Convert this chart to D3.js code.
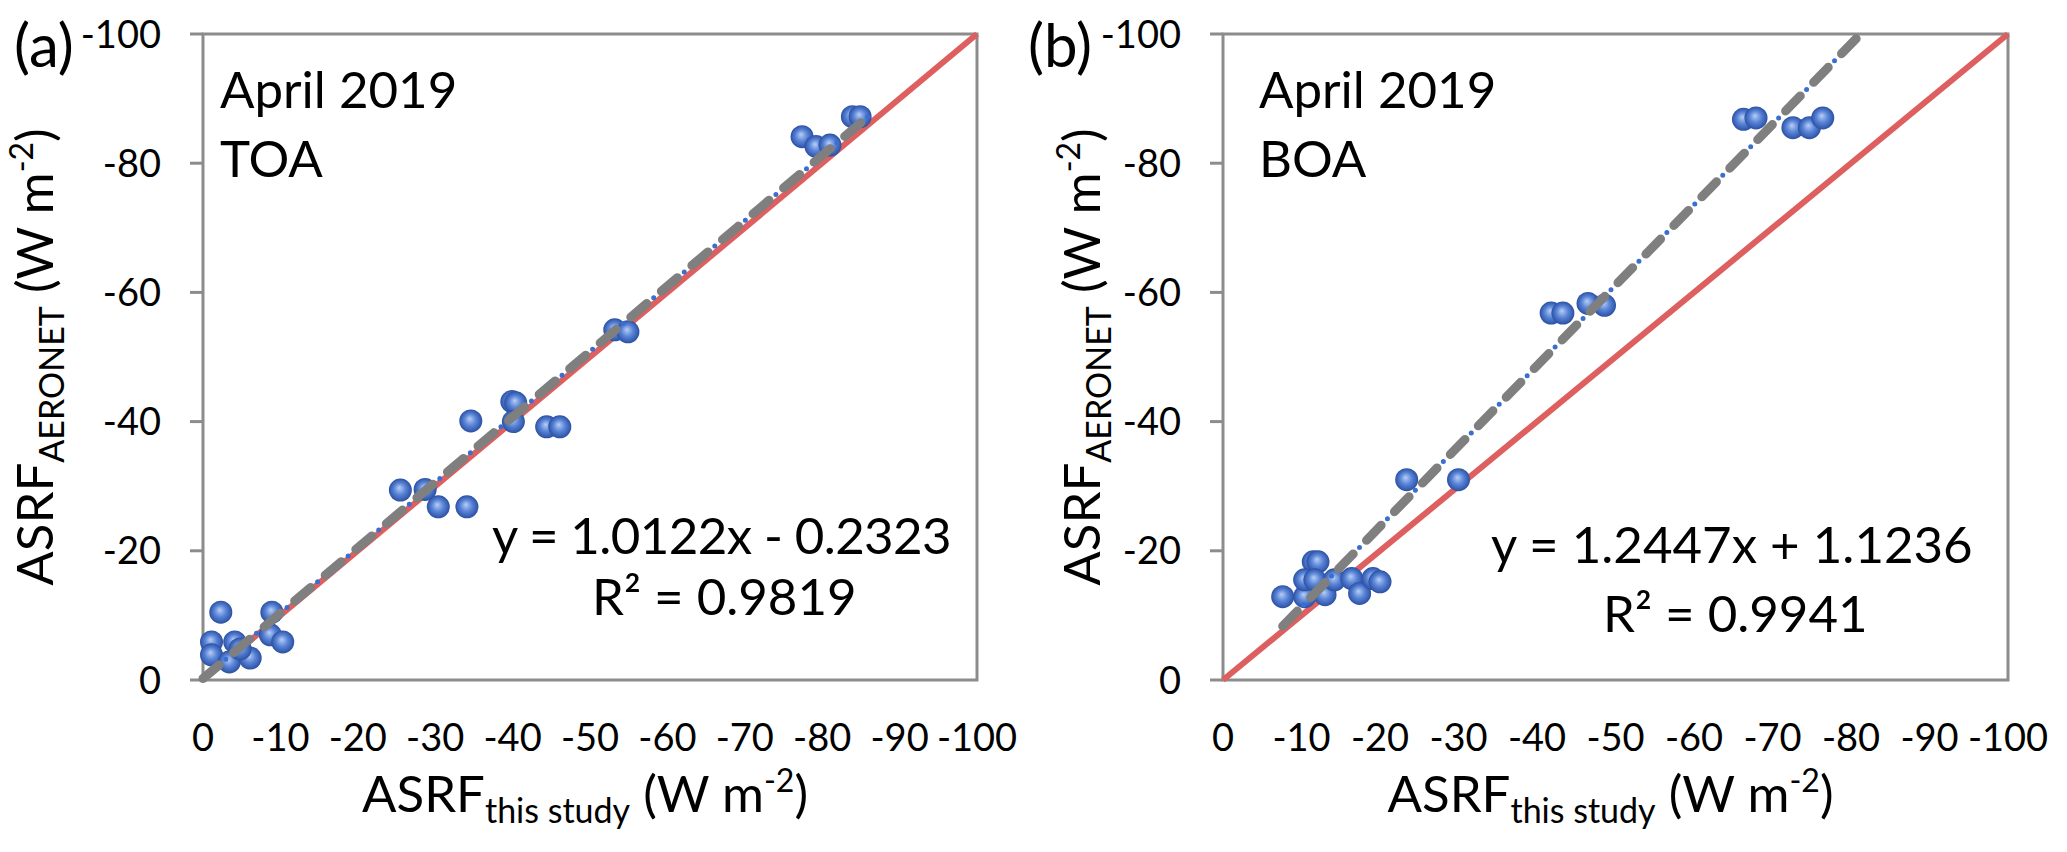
<!DOCTYPE html>
<html>
<head>
<meta charset="utf-8">
<script src="https://cdn.jsdelivr.net/npm/d3@7"></script>
<style>
  html, body { margin: 0; padding: 0; background: #fff; }
  svg text { font-family: Lato, "Open Sans", sans-serif; fill: #000; }
</style>
</head>
<body>
<svg id="chart" width="2067" height="852"></svg>
<script>
// Data (W m-2)
const toaThisStudy = [-2.3, -8.9, -1.1, -4.1, -1.1, -3.4, -6.1, -8.7, -10.3, -4.8,
  -25.5, -28.7, -30.4, -34.1, -34.6, -39.9, -40.4, -40.1, -44.4, -46.1,
  -53.2, -54.9, -77.4, -79.2, -81.0, -83.9, -84.9];
const toaAeronet = [-10.5, -10.5, -5.9, -5.9, -3.9, -2.8, -3.4, -7.0, -5.9, -4.8,
  -29.4, -29.5, -26.8, -26.8, -40.1, -43.1, -42.9, -40.0, -39.2, -39.2,
  -54.2, -53.9, -84.1, -82.6, -82.8, -87.2, -87.2];

const boaThisStudy = [-7.6, -10.4, -11.5, -12.1, -10.4, -11.7, -13.0, -14.2, -16.4, -17.4, -19.1, -20.0,
  -23.4, -30.0, -41.8, -43.3, -46.5, -48.6, -66.3, -67.9, -72.6, -74.7, -76.4];
const boaAeronet = [-12.9, -12.9, -18.3, -18.3, -15.5, -15.5, -13.2, -15.5, -15.7, -13.4, -15.7, -15.2,
  -31.0, -31.0, -56.8, -56.8, -58.3, -58.0, -86.8, -87.0, -85.5, -85.5, -87.0];

// linear fits as printed on the chart
const toaFit = { slope: 1.0122, intercept: -0.2323, r2: '0.9819', from: 0, to: -86 };
const boaFit = { slope: 1.2447, intercept: 1.1236, r2: '0.9941', from: -7.6, to: -80.8 };

const axisTicksY = [0, -20, -40, -60, -80, -100];
const axisTicksX = [0, -10, -20, -30, -40, -50, -60, -70, -80, -90, -100];

const svg = d3.select('#chart');

// sphere look for the markers
const grad = svg.append('defs').append('radialGradient')
  .attr('id', 'ball').attr('cx', '50%').attr('cy', '50%').attr('r', '50%')
  .attr('fx', '45%').attr('fy', '40%');
grad.append('stop').attr('offset', '0%').attr('stop-color', '#b8cef4');
grad.append('stop').attr('offset', '50%').attr('stop-color', '#5a85d8');
grad.append('stop').attr('offset', '100%').attr('stop-color', '#2b50a3');

const panels = [
  { tag: '(a)', tagX: 14, label: 'TOA', xs: toaThisStudy, ys: toaAeronet, fit: toaFit,
    left: 203, right: 977, yTitleX: 53, textX: 220,
    eqX: 492, eqY: 554, r2X: 592, r2Y: 615, sign: '-' },
  { tag: '(b)', tagX: 1028, label: 'BOA', xs: boaThisStudy, ys: boaAeronet, fit: boaFit,
    left: 1223, right: 2008, yTitleX: 1100, textX: 1259,
    eqX: 1491, eqY: 563, r2X: 1603, r2Y: 632, sign: '+' }
];

const plotTop = 34, plotBottom = 680;

panels.forEach(function(p) {
  const x = d3.scaleLinear().domain([0, -100]).range([p.left, p.right]);
  const y = d3.scaleLinear().domain([0, -100]).range([plotBottom, plotTop]);
  const g = svg.append('g');

  // plot frame + y ticks
  g.append('rect')
    .attr('x', x(0)).attr('y', y(-100))
    .attr('width', x(-100) - x(0)).attr('height', y(0) - y(-100))
    .attr('fill', 'none').attr('stroke', '#8c8c8c').attr('stroke-width', 3);

  g.selectAll('.ytick').data(axisTicksY).join('line')
    .attr('x1', x(0) - 13).attr('x2', x(0))
    .attr('y1', d => y(d)).attr('y2', d => y(d))
    .attr('stroke', '#8c8c8c').attr('stroke-width', 3);

  g.selectAll('.ylab').data(axisTicksY).join('text')
    .attr('x', x(0) - 42).attr('y', d => y(d)).attr('dy', '0.36em')
    .attr('text-anchor', 'end').style('font-size', '38px')
    .text(d => d);

  g.selectAll('.xlab').data(axisTicksX).join('text')
    .attr('x', d => x(d)).attr('y', 751)
    .attr('text-anchor', 'middle').style('font-size', '38px')
    .text(d => d);

  // 1:1 line
  g.append('line')
    .attr('x1', x(0)).attr('y1', y(0)).attr('x2', x(-100)).attr('y2', y(-100))
    .attr('stroke', '#dd5f5f').attr('stroke-width', 6);

  // points
  g.selectAll('circle').data(p.xs).join('circle')
    .attr('cx', d => x(d))
    .attr('cy', (d, i) => y(p.ys[i]))
    .attr('r', 11.5)
    .attr('fill', 'url(#ball)');

  // trend line: blue dots under grey dashes
  const f = p.fit;
  const tx1 = x(f.from), ty1 = y(f.slope * f.from + f.intercept);
  const tx2 = x(f.to), ty2 = y(f.slope * f.to + f.intercept);
  g.append('line')
    .attr('x1', tx1).attr('y1', ty1).attr('x2', tx2).attr('y2', ty2)
    .attr('stroke', '#3a6fd0').attr('stroke-width', 5)
    .attr('stroke-linecap', 'round')
    .attr('stroke-dasharray', '0 40').attr('stroke-dashoffset', 10);
  g.append('line')
    .attr('x1', tx1).attr('y1', ty1).attr('x2', tx2).attr('y2', ty2)
    .attr('stroke', '#7f7f7f').attr('stroke-width', 9)
    .attr('stroke-linecap', 'round')
    .attr('stroke-dasharray', '21 19');

  // texts
  g.append('text').attr('x', p.tagX).attr('y', 67).style('font-size', '60px').text(p.tag);
  g.append('text').attr('x', p.textX).attr('y', 108).style('font-size', '51px').text('April 2019');
  g.append('text').attr('x', p.textX).attr('y', 177).style('font-size', '51px').text(p.label);

  g.append('text').attr('x', p.eqX).attr('y', p.eqY).style('font-size', '51px')
    .style('letter-spacing', p.sign === '-' ? '-0.6px' : '0px')
    .text('y = ' + f.slope.toFixed(4) + 'x ' + p.sign + ' ' + Math.abs(f.intercept).toFixed(4));
  g.append('text').attr('x', p.r2X).attr('y', p.r2Y).style('font-size', '51px')
    .text('R² = ' + f.r2);

  // axis titles
  const xt = g.append('text')
    .attr('x', (x(0) + x(-100)) / 2 - 5).attr('y', 812)
    .attr('text-anchor', 'middle').style('font-size', '51px');
  addTitle(xt, 'this study');

  const yt = g.append('text')
    .attr('transform', 'translate(' + p.yTitleX + ',' + (plotTop + plotBottom) / 2 + ') rotate(-90)')
    .attr('text-anchor', 'middle').style('font-size', '51px');
  addTitle(yt, 'AERONET');
});

function addTitle(t, sub) {
  t.append('tspan').text('ASRF');
  t.append('tspan').attr('dy', 11).style('font-size', '34px').text(sub);
  t.append('tspan').attr('dy', -11).text(' (W m');
  t.append('tspan').attr('dy', -20).style('font-size', '32px').text('-2');
  t.append('tspan').attr('dy', 20).text(')');
}
</script>
</body>
</html>
